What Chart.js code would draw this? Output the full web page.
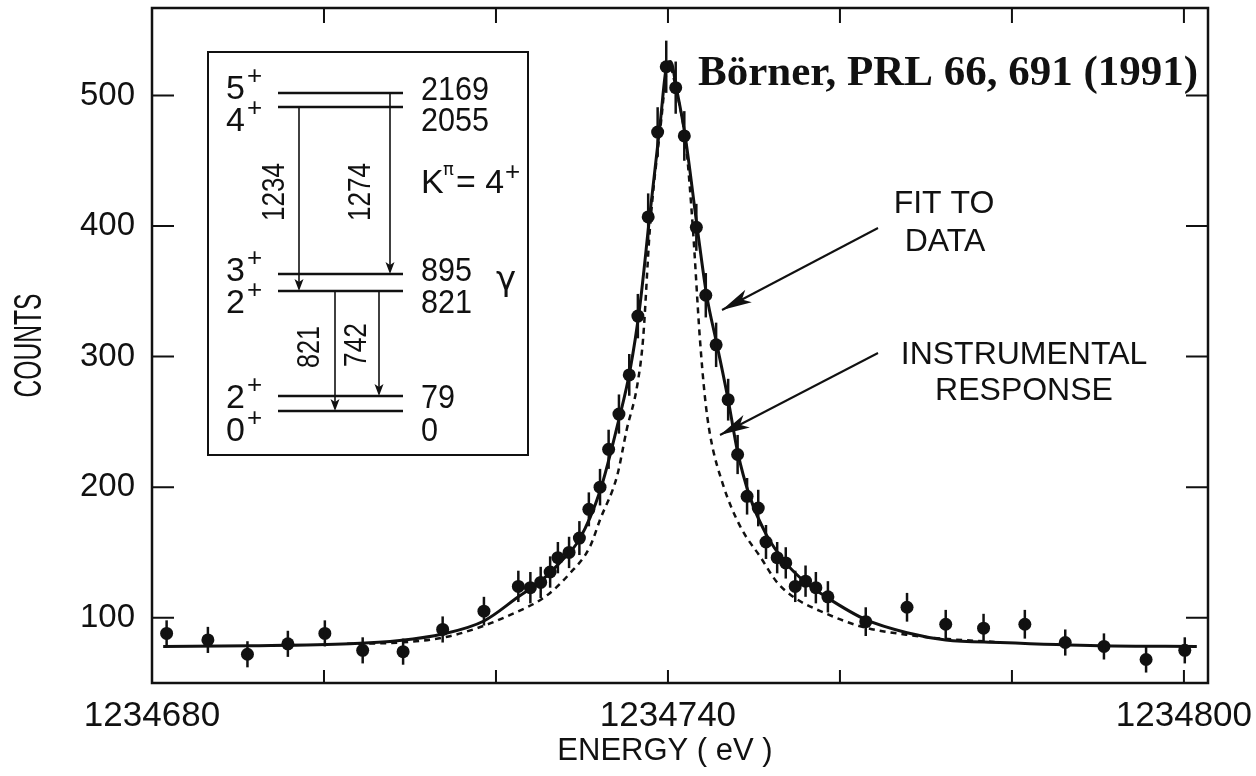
<!DOCTYPE html>
<html>
<head>
<meta charset="utf-8">
<script src="https://cdn.jsdelivr.net/npm/chart.js@4.4.1/dist/chart.umd.min.js"></script>
<style>
  html, body { margin: 0; padding: 0; background: #fff; }
  #wrap { width: 1256px; height: 776px; }
</style>
</head>
<body>
<div id="wrap"><canvas id="spectrum" width="1256" height="776"></canvas></div>
<script>
// measured spectrum (energy in eV, counts, 1 sigma error)
const energy = [
  1234681.7, 1234686.5, 1234691.1, 1234695.8, 1234700.1, 1234704.5, 1234709.2, 1234713.8,
  1234718.6, 1234722.6, 1234724.0, 1234725.2, 1234726.3, 1234727.2, 1234728.5, 1234729.7,
  1234730.8, 1234732.1, 1234733.1, 1234734.3, 1234735.5, 1234736.5, 1234737.7, 1234738.8,
  1234739.8, 1234740.9, 1234741.9, 1234743.3, 1234744.4, 1234745.6, 1234747.0, 1234748.1,
  1234749.2, 1234750.5, 1234751.4, 1234752.7, 1234753.7, 1234754.8, 1234756.0, 1234757.2,
  1234758.6, 1234763.0, 1234767.8, 1234772.3, 1234776.7, 1234781.5, 1234786.2, 1234790.7,
  1234795.6, 1234800.1
];
const counts = [
  88, 83, 72, 80, 88, 75, 74, 91,
  105, 124, 123, 127, 135, 146, 150, 161,
  183, 200, 229, 256, 286, 331, 407, 472,
  522, 506, 469, 399, 347, 309, 267, 225,
  193, 184, 158, 146, 142, 124, 128, 123,
  116, 97, 108, 95, 92, 95, 81, 78,
  68, 75
];
const countErr = [
  10, 10, 10, 10, 10, 10, 10, 10,
  11, 12, 12, 12, 12, 12, 12, 13,
  13, 14, 15, 15, 16, 17, 18, 19,
  20, 20, 19, 18, 17, 17, 16, 15,
  14, 14, 13, 12, 12, 12, 12, 12,
  12, 11, 11, 11, 11, 11, 10, 10,
  10, 10
];

// "fit to data" curve
const fitEnergy = [
  1234681.3, 1234691.4, 1234703.0, 1234708.8, 1234713.8, 1234718.6, 1234722.6, 1234725.2,
  1234727.4, 1234729.7, 1234732.1, 1234734.3, 1234735.6, 1234736.7, 1234737.9, 1234739.1,
  1234739.8, 1234740.3, 1234741.0, 1234742.0, 1234743.4, 1234744.5, 1234745.7, 1234747.0,
  1234748.1, 1234749.5, 1234751.4, 1234753.7, 1234756.0, 1234758.6, 1234763.0, 1234767.8,
  1234772.3, 1234778.6, 1234790.2, 1234801.5
];
const fitCounts = [
  78, 78.5, 80, 82.5, 87.5, 97.5, 116, 128,
  142, 160, 197, 252, 290, 337, 409, 479,
  521, 526, 505, 469, 399, 347, 309, 267,
  227, 193, 164, 142, 127, 115, 98.5, 88.5,
  83, 81, 78.5, 78
];

// "instrumental response" (dashed)
const respEnergy = [
  1234702.7, 1234708.8, 1234713.8, 1234717.8, 1234721.6, 1234725.7, 1234728.6, 1234730.9,
  1234732.1, 1234734.1, 1234735.2, 1234736.4, 1234737.1, 1234737.9, 1234739.1, 1234740.1,
  1234741.0, 1234742.1, 1234742.9, 1234743.7, 1234744.3, 1234744.9, 1234746.4, 1234748.4,
  1234750.8, 1234752.7, 1234754.8, 1234758.1, 1234762.6, 1234767.7, 1234771.9, 1234778.0
];
const respCounts = [
  80, 81, 84.7, 92, 102, 116, 134, 154,
  175, 209, 244, 277, 313, 398, 474, 524,
  503, 462, 398, 315, 269, 240, 202, 170,
  146, 127, 115, 104, 93, 87, 84, 81.5
];

const xTickValues = [1234680, 1234700, 1234720, 1234740, 1234760, 1234780, 1234800];
const xTickLabels = ["1234680", "", "", "1234740", "", "", "1234800"];
const yTickValues = [100, 200, 300, 400, 500];
const yTickLabels = ["100", "200", "300", "400", "500"];

const INK = "#111";
const SANS = "'Liberation Sans', Arial, sans-serif";

function toXY(xs, ys) {
  return xs.map((x, i) => ({ x: x, y: ys[i] }));
}

function arrowHead(ctx, x0, y0, x1, y1, len, half) {
  const a = Math.atan2(y1 - y0, x1 - x0);
  const bx = x1 - Math.cos(a) * len, by = y1 - Math.sin(a) * len;
  const nx = -Math.sin(a) * half, ny = Math.cos(a) * half;
  const mx = x1 - Math.cos(a) * len * 0.75, my = y1 - Math.sin(a) * len * 0.75;
  ctx.beginPath();
  ctx.moveTo(x1, y1);
  ctx.lineTo(bx + nx, by + ny);
  ctx.lineTo(mx, my);
  ctx.lineTo(bx - nx, by - ny);
  ctx.closePath();
  ctx.fill();
}

function arrow(ctx, x0, y0, x1, y1, len, half) {
  ctx.beginPath();
  ctx.moveTo(x0, y0);
  ctx.lineTo(x1, y1);
  ctx.stroke();
  arrowHead(ctx, x0, y0, x1, y1, len, half);
}

function sup(ctx, base, s, x, y, size) {
  ctx.font = size + "px " + SANS;
  ctx.fillText(base, x, y);
  const w = ctx.measureText(base).width;
  ctx.font = Math.round(size * 0.75) + "px " + SANS;
  ctx.fillText(s, x + w + 2, y - size * 0.45);
}

// error bars on the measured points
const errorBars = {
  id: "errorBars",
  afterDatasetsDraw(chart) {
    const ctx = chart.ctx, ys = chart.scales.y, area = chart.chartArea;
    const meta = chart.getDatasetMeta(2);
    ctx.save();
    ctx.beginPath();
    ctx.rect(area.left, area.top, area.right - area.left, area.bottom - area.top);
    ctx.clip();
    ctx.strokeStyle = INK;
    ctx.lineWidth = 2.5;
    meta.data.forEach((pt, i) => {
      const top = ys.getPixelForValue(counts[i] + countErr[i]);
      const bot = ys.getPixelForValue(counts[i] - countErr[i]);
      ctx.beginPath();
      ctx.moveTo(pt.x, top);
      ctx.lineTo(pt.x, bot);
      ctx.stroke();
    });
    ctx.restore();
  }
};

// frame, inward ticks, axis titles, level-scheme inset and labels
const decorations = {
  id: "decorations",
  afterDraw(chart) {
    const ctx = chart.ctx, a = chart.chartArea;
    const xs = chart.scales.x, ys = chart.scales.y;
    ctx.save();
    ctx.strokeStyle = INK;
    ctx.fillStyle = INK;

    ctx.lineWidth = 2.5;
    ctx.strokeRect(a.left, a.top, a.right - a.left, a.bottom - a.top);

    ctx.lineWidth = 2;
    yTickValues.forEach(v => {
      const py = ys.getPixelForValue(v);
      ctx.beginPath();
      ctx.moveTo(a.left, py); ctx.lineTo(a.left + 22, py);
      ctx.moveTo(a.right, py); ctx.lineTo(a.right - 22, py);
      ctx.stroke();
    });
    xTickValues.forEach(v => {
      const px = xs.getPixelForValue(v);
      ctx.beginPath();
      ctx.moveTo(px, a.bottom); ctx.lineTo(px, a.bottom - 13);
      ctx.moveTo(px, a.top); ctx.lineTo(px, a.top + 15);
      ctx.stroke();
    });

    // axis titles
    ctx.textAlign = "center";
    ctx.textBaseline = "middle";
    ctx.save();
    ctx.translate(31, (a.top + a.bottom) / 2);
    ctx.rotate(-Math.PI / 2);
    ctx.font = "38px " + SANS;
    ctx.fillText("COUNTS", 0, 0, 104);
    ctx.restore();
    ctx.font = "31px " + SANS;
    ctx.fillText("ENERGY ( eV )", 665, 751);

    // reference
    ctx.textBaseline = "alphabetic";
    ctx.font = "bold 43px 'Liberation Serif', 'Times New Roman', serif";
    ctx.fillText("Börner, PRL 66, 691 (1991)", 948, 85);

    // curve labels with arrows
    ctx.font = "32px " + SANS;
    ctx.fillText("FIT TO", 944, 213);
    ctx.fillText("DATA", 945, 251);
    ctx.fillText("INSTRUMENTAL", 1024, 364);
    ctx.fillText("RESPONSE", 1024, 400);
    ctx.lineWidth = 2;
    arrow(ctx, 878, 228, 722, 310, 30, 7);
    arrow(ctx, 878, 353, 720, 435, 30, 7);

    // level scheme inset
    ctx.fillStyle = "#fff";
    ctx.fillRect(208, 52, 320, 403);
    ctx.fillStyle = INK;
    ctx.lineWidth = 2;
    ctx.strokeRect(208, 52, 320, 403);

    ctx.lineWidth = 2.5;
    [93, 107, 274, 291, 396, 411].forEach(ly => {
      ctx.beginPath();
      ctx.moveTo(278, ly); ctx.lineTo(403, ly);
      ctx.stroke();
    });

    ctx.lineWidth = 1.6;
    [[299, 107, 291], [390, 93, 274], [335, 291, 411], [379, 291, 396]].forEach(t => {
      ctx.beginPath();
      ctx.moveTo(t[0], t[1]); ctx.lineTo(t[0], t[2] - 8);
      ctx.stroke();
      arrowHead(ctx, t[0], t[1], t[0], t[2], 12, 4.5);
    });

    ctx.textAlign = "left";
    [["5", 99], ["4", 131], ["3", 281], ["2", 313], ["2", 408], ["0", 441]].forEach(l => {
      sup(ctx, l[0], "+", 226, l[1], 34);
    });
    ctx.font = "34px " + SANS;
    [["2169", 100], ["2055", 131], ["895", 281], ["821", 313], ["79", 408], ["0", 441]].forEach(l => {
      ctx.fillText(l[0], 421, l[1], l[0].length * 17);
    });
    ctx.fillText("K", 421, 193);
    ctx.font = "18px 'DejaVu Sans', sans-serif";
    ctx.fillText("\u03c0", 443, 175);
    ctx.font = "34px " + SANS;
    ctx.fillText("= 4", 456, 193, 48);
    ctx.font = "26px " + SANS;
    ctx.fillText("+", 505, 180);
    ctx.font = "34px 'DejaVu Sans', sans-serif";
    ctx.fillText("\u03b3", 496, 290);

    ctx.font = "32px " + SANS;
    ctx.textAlign = "center";
    ctx.textBaseline = "middle";
    [["1234", 275, 192, 58], ["1274", 361, 192, 58], ["821", 310, 347, 42], ["742", 357, 345, 44]].forEach(l => {
      ctx.save();
      ctx.translate(l[1], l[2]);
      ctx.rotate(-Math.PI / 2);
      ctx.fillText(l[0], 0, 0, l[3]);
      ctx.restore();
    });

    ctx.restore();
  }
};

new Chart(document.getElementById("spectrum"), {
  type: "scatter",
  data: {
    datasets: [
      {
        label: "Instrumental response",
        data: toXY(respEnergy, respCounts),
        showLine: true,
        borderColor: INK,
        borderWidth: 2.5,
        borderDash: [6, 5],
        pointRadius: 0,
        cubicInterpolationMode: "monotone",
        order: 3,
      },
      {
        label: "Fit to data",
        data: toXY(fitEnergy, fitCounts),
        showLine: true,
        borderColor: INK,
        borderWidth: 3,
        pointRadius: 0,
        cubicInterpolationMode: "monotone",
        order: 2,
      },
      {
        label: "Data",
        data: toXY(energy, counts),
        pointRadius: 6.5,
        backgroundColor: INK,
        borderWidth: 0,
        order: 1,
      },
    ],
  },
  options: {
    responsive: false,
    animation: false,
    events: [],
    layout: { padding: { top: 8, right: 48, left: 0, bottom: 0 } },
    scales: {
      x: {
        type: "linear",
        min: 1234680,
        max: 1234802.8,
        afterBuildTicks: s => { s.ticks = xTickValues.map(v => ({ value: v })); },
        afterFit: s => { s.height = 93; s.paddingLeft = 0; s.paddingRight = 0; },
        grid: { display: false, drawTicks: false },
        border: { display: false },
        ticks: {
          autoSkip: false,
          maxRotation: 0,
          padding: 12,
          color: INK,
          font: { family: SANS, size: 35 },
          callback: v => xTickLabels[xTickValues.indexOf(v)] || "",
        },
      },
      y: {
        min: 50,
        max: 567,
        afterBuildTicks: s => { s.ticks = yTickValues.map(v => ({ value: v })); },
        afterFit: s => { s.width = 152; s.paddingTop = 0; s.paddingBottom = 0; },
        grid: { display: false, drawTicks: false },
        border: { display: false },
        ticks: {
          padding: 17,
          color: INK,
          font: { family: SANS, size: 33 },
          callback: v => yTickLabels[yTickValues.indexOf(v)] || "",
        },
      },
    },
    plugins: {
      legend: { display: false },
      tooltip: { enabled: false },
    },
  },
  plugins: [errorBars, decorations],
});
</script>
</body>
</html>
